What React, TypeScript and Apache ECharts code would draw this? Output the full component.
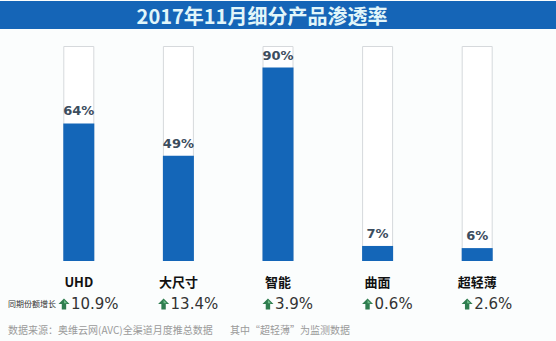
import React, { useEffect, useRef } from "react";
import * as echarts from "echarts";

const categories = ["UHD", "大尺寸", "智能", "曲面", "超轻薄"];
const penetration = [64, 49, 90, 7, 6];
const fullScale = [100, 100, 100, 100, 100];
const growth = [10.9, 13.4, 3.9, 0.6, 2.6];

const arrowSvg =
  "data:image/svg+xml;utf8," +
  encodeURIComponent(
    '<svg xmlns="http://www.w3.org/2000/svg" width="12" height="12" viewBox="0 0 12 12">' +
      '<polygon points="6,0.5 11.5,6 8.2,6 8.2,11.5 3.8,11.5 3.8,6 0.5,6" fill="#2f7d4f"/>' +
      '<polygon points="6,2 9.2,5.2 6,5.2" fill="#6fbf8a"/>' +
      "</svg>"
  );

export default function App() {
  const ref = useRef<HTMLDivElement>(null);
  useEffect(() => {
    if (!ref.current) return;
    const chart = echarts.init(ref.current, null, { renderer: "svg" });
    const font = "'Noto Sans CJK SC', 'DejaVu Sans', sans-serif";
    chart.setOption({
      animation: false,
      backgroundColor: "#fbfdfd",
      textStyle: { fontFamily: font },
      grid: { left: 29, right: 29, top: 46, bottom: 80 },
      xAxis: {
        type: "category",
        data: categories,
        axisLine: { show: false },
        axisTick: { show: false },
        axisLabel: {
          margin: 8,
          interval: 0,
          formatter: (v: string, i: number) =>
            `{n|${v}}\n{sp|}{a|}{g|${growth[i].toFixed(1)}%}`,
          rich: {
            n: { fontSize: 13, fontWeight: "bold", color: "#111", lineHeight: 24, fontFamily: font },
            sp: { width: 18, lineHeight: 22 },
            a: {
              width: 12,
              height: 12,
              lineHeight: 22,
              padding: [0, 2, 0, 0],
              backgroundColor: { image: arrowSvg },
            },
            g: { fontSize: 15, color: "#333", lineHeight: 22, fontFamily: "'DejaVu Sans', sans-serif" },
          },
        },
      },
      yAxis: {
        type: "value",
        min: 0,
        max: 100,
        show: false,
        splitLine: { show: false },
      },
      series: [
        {
          type: "bar",
          data: fullScale,
          barWidth: 31,
          barGap: "-100%",
          silent: true,
          itemStyle: { color: "#ffffff", borderColor: "#d6d9dc", borderWidth: 1 },
          z: 1,
        },
        {
          type: "bar",
          data: penetration,
          barWidth: 31,
          itemStyle: { color: "#1466b8" },
          label: {
            show: true,
            position: "top",
            distance: 6,
            formatter: "{c}%",
            color: "#3c4d5e",
            fontSize: 13,
            fontWeight: "bold",
            fontFamily: "'DejaVu Sans', sans-serif",
          },
          z: 2,
        },
      ],
      graphic: [
        {
          type: "rect",
          shape: { x: 0, y: 1, width: 556, height: 28 },
          style: { fill: "#1565b7" },
        },
        {
          type: "text",
          x: 262,
          y: 15,
          style: {
            text: "2017年11月细分产品渗透率",
            fill: "#e2f6fa",
            font: `bold 20px ${font}`,
            textAlign: "center",
            textVerticalAlign: "middle",
          },
        },
        {
          type: "text",
          x: 8,
          y: 303,
          style: {
            text: "同期份额增长",
            fill: "#333",
            font: `8px ${font}`,
            textVerticalAlign: "middle",
          },
        },
        {
          type: "text",
          x: 8,
          y: 329,
          style: {
            text: "数据来源：奥维云网(AVC)全渠道月度推总数据",
            fill: "#9a9a9a",
            font: `10px ${font}`,
            textVerticalAlign: "middle",
          },
        },
        {
          type: "text",
          x: 230,
          y: 329,
          style: {
            text: "其中\u201c超轻薄\u201d为监测数据",
            fill: "#9a9a9a",
            font: `10px ${font}`,
            textVerticalAlign: "middle",
          },
        },
      ],
    });
    return () => chart.dispose();
  }, []);
  return (
    <div
      ref={ref}
      style={{ position: "fixed", left: 0, top: 0, width: 556, height: 341 }}
    />
  );
}
